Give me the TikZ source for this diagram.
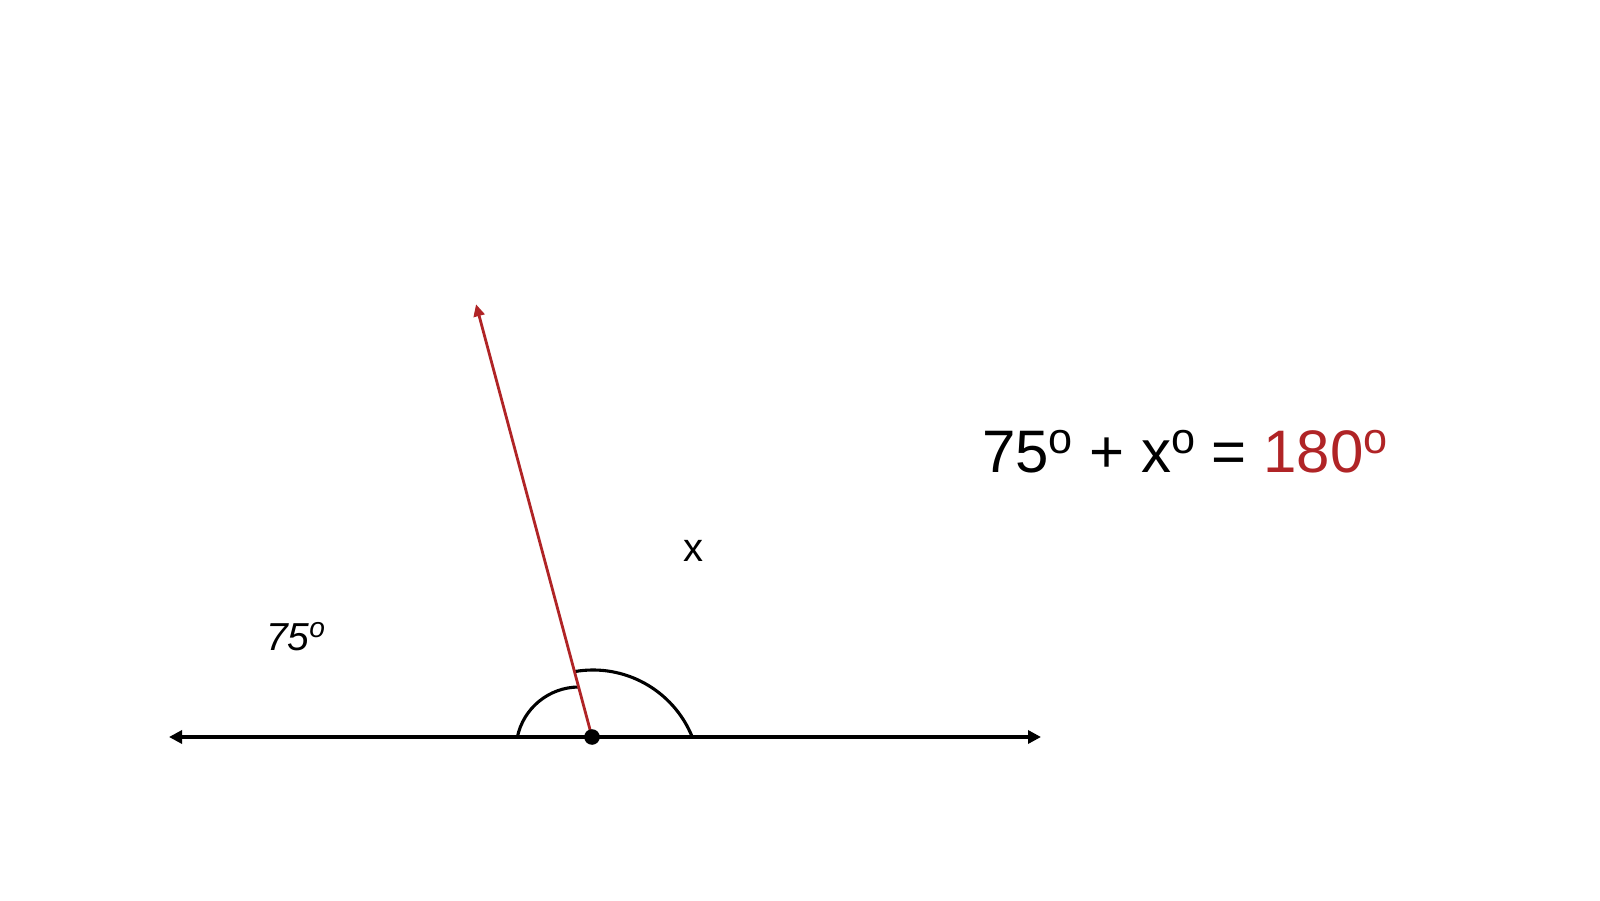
\documentclass[tikz,border=0pt]{standalone}
\usepackage{fontspec}
\setmainfont{Liberation Sans}
\usetikzlibrary{arrows.meta,calc}
\definecolor{rayred}{RGB}{176,36,38}
\newcommand\mydeg{\raisebox{0.33em}{\scalebox{0.72}{o}}}
\begin{document}
\begin{tikzpicture}[x=1pt,y=1pt,
  baseline/.style={line width=3.3pt,{Triangle[length=13pt,width=13pt]}-{Triangle[length=13pt,width=13pt]}},
  raystyle/.style={line width=2.8pt,rayred,-{Triangle[length=12pt,width=11pt]}},
  arcstyle/.style={line width=3.1pt},
  lbl/.style={inner sep=0pt,outer sep=0pt}]
\fill[white] (0,0) rectangle (1600,900);
\useasboundingbox (0,0) rectangle (1600,900);
\coordinate (L) at (169,163);
\coordinate (R) at (1041,163);
\coordinate (V) at (592,163);
\coordinate (T) at ($(V)+(105:448)$);
\draw[baseline] (L) -- (R);
\draw[arcstyle] (579,150) ++(168.3:63) arc[start angle=168.3,end angle=90.4,radius=63];
\draw[arcstyle] (593,123) ++(100:107) arc[start angle=100,end angle=21.8,radius=107];
\draw[raystyle] (V) -- (T);
\fill (V) circle[radius=7.8];
\node[lbl,anchor=base west,font=\fontsize{39}{46}\selectfont\itshape] (a75) at (266,250) {75\mydeg};
\node[lbl,anchor=base,font=\fontsize{40}{48}\selectfont] (xl) at (693,338) {x};
\node[lbl,anchor=base west,font=\fontsize{60}{72}\selectfont] (eq) at (982,427) {75\mydeg{} + x\mydeg{} = \textcolor{rayred}{180\mydeg}};
\end{tikzpicture}
\end{document}
